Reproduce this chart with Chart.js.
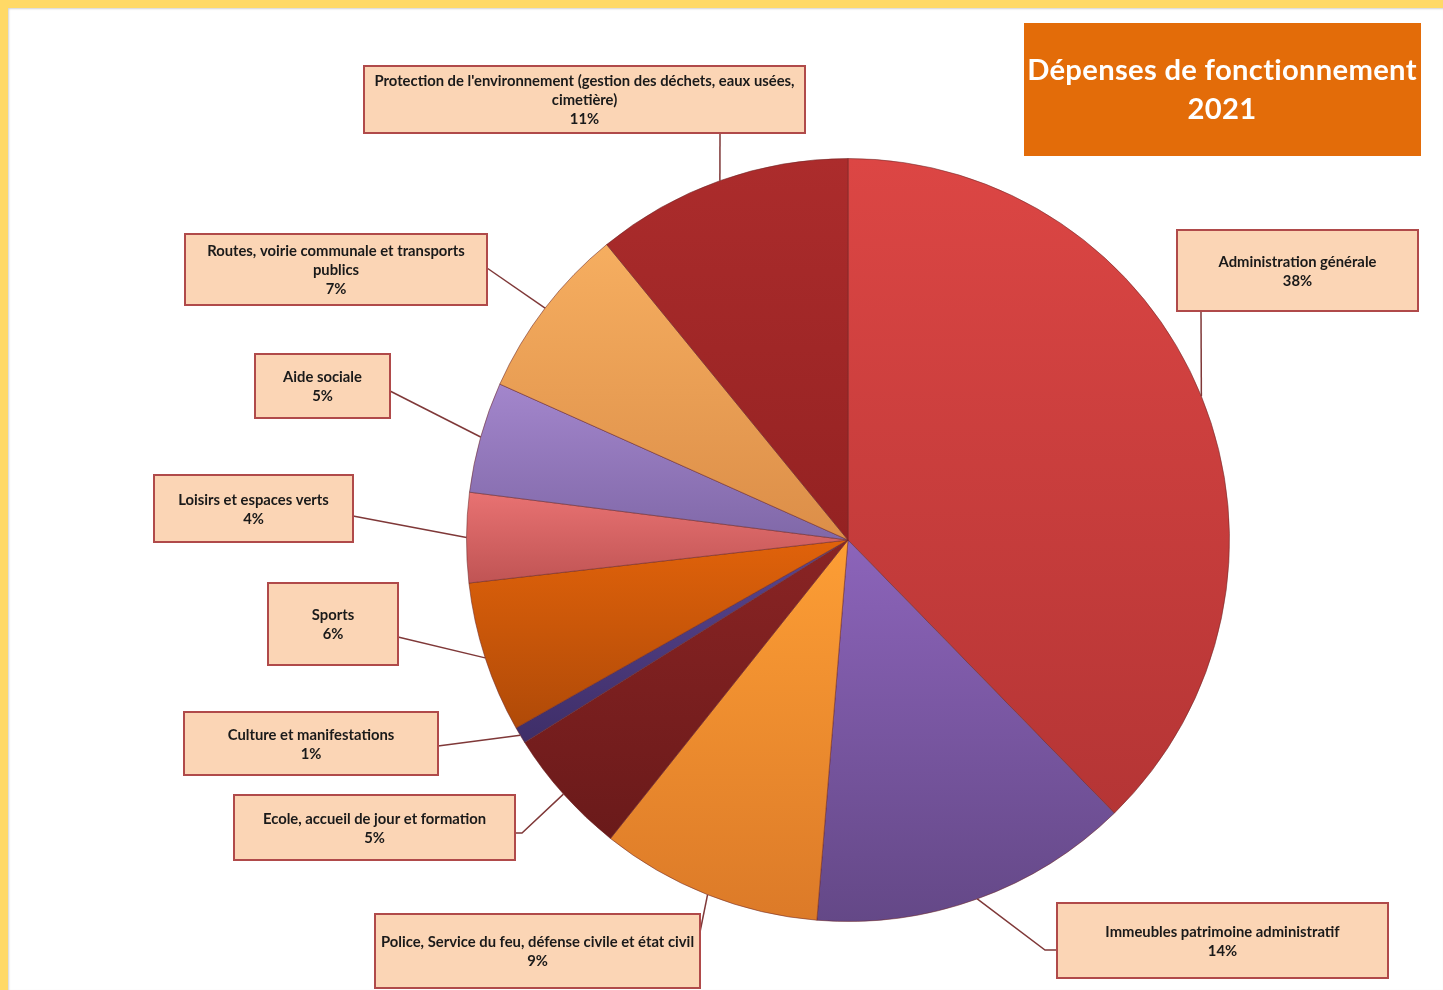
<!DOCTYPE html>
<html>
<head>
<meta charset="utf-8">
<title>Dépenses de fonctionnement 2021</title>
<script src="https://cdn.jsdelivr.net/npm/chart.js@4.4.0/dist/chart.umd.min.js"></script>
<style>
	body{
		margin: 0;
		background-color: #fff;
	}
	#cadre{
		position: absolute;
		left: 0;
		top: 0;
		width: 1443px;
		height: 990px;
		box-sizing: border-box;
		border-top: 8px solid #ffd966;
		border-left: 8px solid #ffd966;
		box-shadow: inset 1px 1px 2px rgba(0,0,0,0.18);
	}
	#chart{
		position: absolute;
		left: 0;
		top: 0;
	}
</style>
</head>
<body>
<div id="cadre"></div>
<canvas id="chart" width="1443" height="990"></canvas>
<script>
var titre = ["Dépenses de fonctionnement", "2021"];

var categories = [
	"Administration générale",
	"Immeubles patrimoine administratif",
	"Police, Service du feu, défense civile et état civil",
	"Ecole, accueil de jour et formation",
	"Culture et manifestations",
	"Sports",
	"Loisirs et espaces verts",
	"Aide sociale",
	"Routes, voirie communale et transports publics",
	"Protection de l'environnement (gestion des déchets, eaux usées, cimetière)"
];

// part of the total
var valeurs = [37.7, 13.6, 9.4, 5.4, 0.7, 6.4, 3.8, 4.7, 7.4, 10.9];

var couleursHaut = ["#dc4644", "#8c64ba", "#fd9e35", "#8a2424", "#5a4690", "#e0620a", "#e87272", "#a386cc", "#f6ae60", "#ac2c2c"];
var couleursBas  = ["#b53535", "#644887", "#dc7a28", "#6a1a1a", "#3e2e68", "#b04a08", "#c05454", "#8068a8", "#dc8e48", "#942222"];

// label boxes: x, y, width, height, anchor x, anchor y, elbow x (or null)
var boites = [
	[1177, 230, 241, 81, 1201, 311, null],
	[1057, 903, 331, 75, 1057, 950, 1045],
	[375, 914, 325, 74, 700, 932, null],
	[234, 795, 281, 65, 515, 833, 522],
	[184, 712, 254, 63, 438, 746, null],
	[268, 583, 130, 82, 398, 637, null],
	[154, 475, 199, 67, 353, 516, null],
	[255, 354, 135, 64, 390, 391, null],
	[185, 234, 302, 71, 487, 268, null],
	[364, 66, 441, 67, 720, 133, null]
];

function degradeTranche(context){
	var chart = context.chart;
	var area = chart.chartArea;
	var i = context.dataIndex;
	if(!area) return couleursBas[i];
	var data = chart.data.datasets[0].data;
	var total = data.reduce(function(a, b){ return a + b; }, 0);
	var avant = 0;
	for(var k = 0; k < i; k++) avant += data[k];
	var cx = (area.left + area.right) / 2;
	var cy = (area.top + area.bottom) / 2;
	var r = Math.min(area.right - area.left, area.bottom - area.top) / 2;
	var a0 = -Math.PI / 2 + avant / total * 2 * Math.PI;
	var a1 = a0 + data[i] / total * 2 * Math.PI;
	var ys = [cy, cy + r * Math.sin(a0), cy + r * Math.sin(a1)];
	[-Math.PI / 2, Math.PI / 2, 3 * Math.PI / 2].forEach(function(a){
		if(a > a0 && a < a1) ys.push(cy + r * Math.sin(a));
	});
	var haut = Math.min.apply(null, ys);
	var bas = Math.max.apply(null, ys);
	if(bas - haut < 2) bas = haut + 2;
	var g = chart.ctx.createLinearGradient(0, haut, 0, bas);
	g.addColorStop(0, couleursHaut[i]);
	g.addColorStop(1, couleursBas[i]);
	return g;
}

function couperTexte(ctx, texte, largeur){
	var mots = texte.split(" ");
	var lignes = [];
	var ligne = "";
	mots.forEach(function(m){
		var essai = ligne ? ligne + " " + m : m;
		if(ctx.measureText(essai).width > largeur && ligne){
			lignes.push(ligne);
			ligne = m;
		}else{
			ligne = essai;
		}
	});
	if(ligne) lignes.push(ligne);
	return lignes;
}

var etiquettes = {
	id: "etiquettes",
	afterDraw: function(chart){
		var ctx = chart.ctx;
		var meta = chart.getDatasetMeta(0);
		var data = chart.data.datasets[0].data;
		var total = data.reduce(function(a, b){ return a + b; }, 0);

		ctx.save();
		// leader lines
		ctx.strokeStyle = "#7f3838";
		ctx.lineWidth = 1.5;
		meta.data.forEach(function(arc, i){
			var p = arc.getProps(["x", "y", "startAngle", "endAngle", "outerRadius"], true);
			var mid = (p.startAngle + p.endAngle) / 2;
			var b = boites[i];
			ctx.beginPath();
			ctx.moveTo(b[4], b[5]);
			if(b[6] !== null) ctx.lineTo(b[6], b[5]);
			ctx.lineTo(p.x + Math.cos(mid) * p.outerRadius, p.y + Math.sin(mid) * p.outerRadius);
			ctx.stroke();
		});

		// boxes and texts
		ctx.font = "bold 14.8px Lato";
		ctx.textAlign = "center";
		ctx.textBaseline = "middle";
		categories.forEach(function(nom, i){
			var b = boites[i];
			ctx.fillStyle = "#fbd5b5";
			ctx.fillRect(b[0], b[1], b[2], b[3]);
			ctx.strokeStyle = "#b04a4a";
			ctx.lineWidth = 2;
			ctx.strokeRect(b[0], b[1], b[2], b[3]);
			var lignes = couperTexte(ctx, nom, b[2] - 8);
			lignes.push(Math.round(data[i] / total * 100) + "%");
			var hLigne = 19;
			var y0 = b[1] + b[3] / 2 - (lignes.length - 1) * hLigne / 2 + 1;
			ctx.fillStyle = "#1a1a1a";
			lignes.forEach(function(l, k){
				ctx.fillText(l, b[0] + b[2] / 2, y0 + k * hLigne);
			});
		});

		// title box
		ctx.fillStyle = "#e36c09";
		ctx.fillRect(1024, 23, 397, 133);
		ctx.fillStyle = "#fff";
		ctx.font = "bold 29.2px Lato";
		ctx.letterSpacing = "0.3px"; // also stops the "ti" ligature
		ctx.fillText(titre[0], 1222, 71);
		ctx.fillText(titre[1], 1222, 110);
		ctx.restore();
	}
};

new Chart(document.getElementById("chart"), {
	type: "pie",
	data: {
		labels: categories,
		datasets: [{
			data: valeurs,
			backgroundColor: degradeTranche,
			borderColor: "rgba(110,40,40,0.55)",
			borderWidth: 1
		}]
	},
	options: {
		responsive: false,
		animation: false,
		layout: {
			padding: {top: 158, bottom: 68, left: 466, right: 213}
		},
		plugins: {
			legend: {display: false},
			tooltip: {enabled: false},
			title: {display: false}
		}
	},
	plugins: [etiquettes]
});
</script>
</body>
</html>
